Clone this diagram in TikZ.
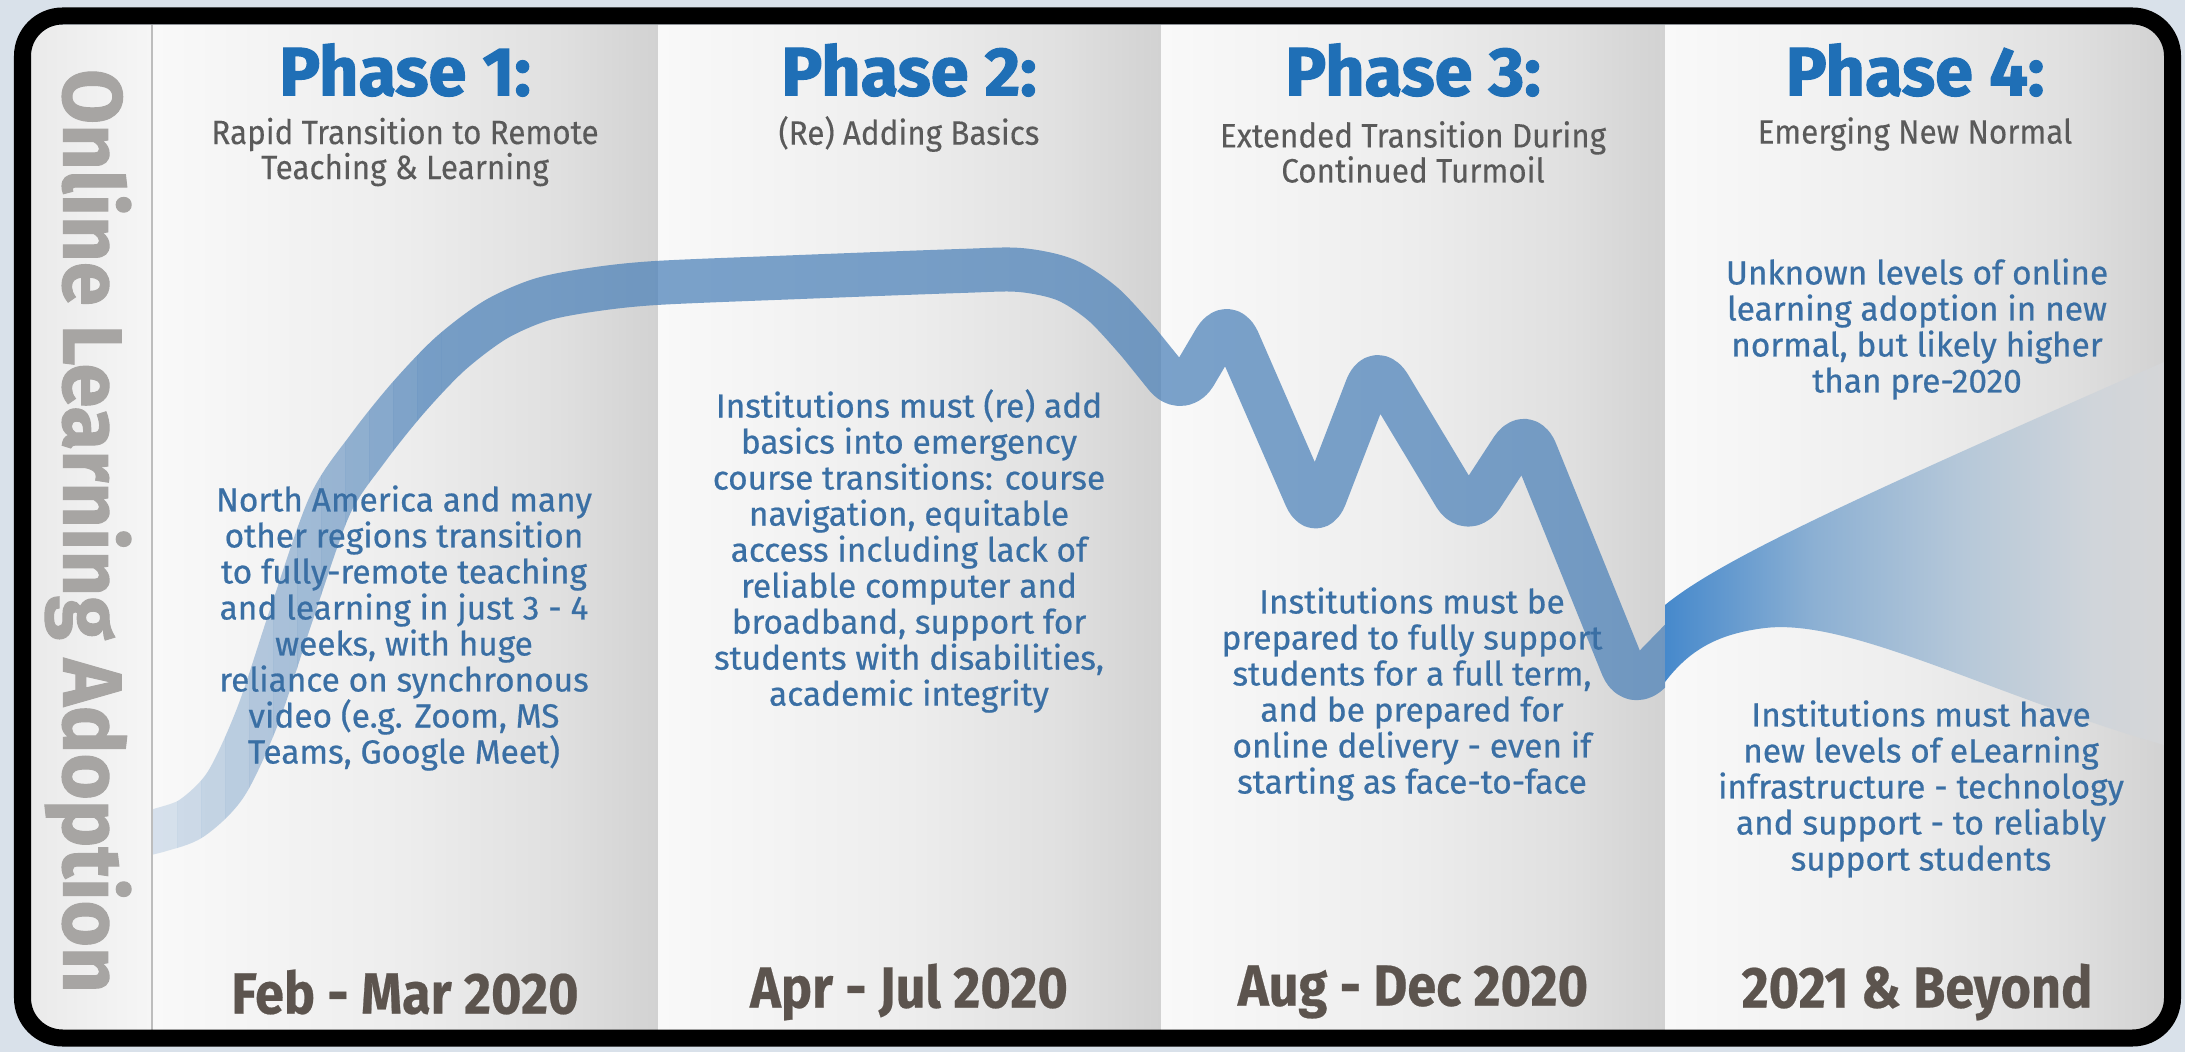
\documentclass[tikz,border=0pt]{standalone}
\usepackage{fontspec}
\setmainfont{Fira Sans}
\newfontfamily\bodyfont[FakeBold=0.6]{Fira Sans}
\newfontfamily\headfont[FakeBold=1.6]{Fira Sans}
\newfontfamily\vertfont[FakeBold=1.2, FakeStretch=0.95]{Fira Sans}
\newfontfamily\datefont[FakeStretch=0.9, FakeBold=0.4]{Fira Sans}
\newfontfamily\subfont[FakeStretch=0.93, FakeBold=0.2]{Fira Sans}

\definecolor{bgout}{HTML}{D9E1EA}
\definecolor{stripL}{HTML}{EAEAEA}
\definecolor{stripR}{HTML}{F6F6F6}
\definecolor{pA}{HTML}{F9F9F9}
\definecolor{pB}{HTML}{EDEDED}
\definecolor{pC}{HTML}{E0E0E0}
\definecolor{pD}{HTML}{D2D2D2}
\definecolor{sepline}{HTML}{BDBDBD}
\definecolor{vtextc}{HTML}{A7A5A3}
\definecolor{headc}{HTML}{1F6FB6}
\definecolor{subc}{HTML}{5A5A5A}
\definecolor{bodyc}{HTML}{3A6FA4}
\definecolor{datec}{HTML}{5C544E}
\definecolor{bandc}{HTML}{4A80B8}
\definecolor{fanA}{HTML}{4689CC}
\definecolor{fanB}{HTML}{8CB0D3}
\definecolor{fanC}{HTML}{B6C8D9}
\definecolor{fanD}{HTML}{D0D5DA}
\definecolor{fanE}{HTML}{D5D6D8}

\pgfdeclarehorizontalshading{panelsh}{100bp}{color(0bp)=(pA); color(25bp)=(pA); color(50bp)=(pB); color(65bp)=(pC); color(75bp)=(pD); color(100bp)=(pD)}
\pgfdeclarehorizontalshading{fansh}{100bp}{color(0bp)=(fanA); color(25bp)=(fanA); color(40bp)=(fanB); color(55bp)=(fanC); color(68bp)=(fanD); color(75bp)=(fanE); color(100bp)=(fanE)}

\tikzset{
  head/.style={font=\headfont\fontsize{19.5}{21}\selectfont\bfseries, text=headc, inner sep=0pt},
  sub/.style={font=\subfont\fontsize{9.6}{9.96}\selectfont, text=subc, align=center, inner sep=0pt},
  body/.style={font=\bodyfont\fontsize{9.5}{10.24}\selectfont, text=bodyc, align=center, inner sep=0pt},
  datelbl/.style={font=\datefont\fontsize{16.5}{18}\selectfont\bfseries, text=datec, inner sep=0pt},
  vtext/.style={font=\vertfont\fontsize{23.8}{25}\selectfont\bfseries, text=vtextc, inner sep=0pt},
  band/.style={draw=bandc, line width=0.44cm, line join=round},
}

\def\bandpath{plot[smooth, tension=0.5] coordinates {(135,836) (160,830) (192,818) (226,784) (258,715) (292,613) (330,505) (368,448) (408,398) (450,354) (495,320) (540,300) (590,290) (656,283) (800,277) (960,271) (1020,270) (1066,280) (1104,305) (1140,344)}
  [rounded corners=0.25cm] -- (1182,396) -- (1228,318) -- (1316,520) -- (1376,364) -- (1468,517) -- (1526,428) -- (1632,690) -- (1710,610)}

\begin{document}
\begin{tikzpicture}[x=0.01cm, y=-0.01cm]
\useasboundingbox (0,0) rectangle (2185,1052);
\fill[bgout] (0,0) rectangle (2185,1052);

% panels
\begin{scope}
  \clip[rounded corners=0.3cm] (31,25) rectangle (2164,1031);
  \shade[left color=stripL, right color=stripR] (31,25) rectangle (152,1031);
  \shade[shading=panelsh] (152,25) rectangle (658,1031);
  \shade[shading=panelsh] (658,25) rectangle (1161,1031);
  \shade[shading=panelsh] (1161,25) rectangle (1665,1031);
  \shade[shading=panelsh] (1665,25) rectangle (2164,1031);
\end{scope}
\draw[sepline, line width=0.02cm] (152,25) -- (152,1031);

% curve: faded start in strips, then the full band
\foreach \i in {0,...,11} {
  \pgfmathsetmacro\xa{153+\i*24}
  \pgfmathsetmacro\xb{153+(\i+1)*24}
  \pgfmathsetmacro\op{0.2+0.52*\i/11}
  \begin{scope}
    \clip (\xa,0) rectangle (\xb,1052);
    \draw[band, draw opacity=\op] \bandpath;
  \end{scope}
}
\begin{scope}
  \clip (441,0) rectangle (1665,1052);
  \draw[band, draw opacity=0.72] \bandpath;
\end{scope}

% fan
\shade[shading=fansh] (1665,605) .. controls (1720,560) and (1850,500) .. (2164,362) -- (2164,745)
  .. controls (1990,695) and (1850,618) .. (1765,628) .. controls (1715,634) and (1688,652) .. (1665,682) -- cycle;

% vertical label
\node[vtext, rotate=-90] (ylabel) at (88,531) {Online Learning Adoption};

% headings
\node[head] (h1) at (405,70) {Phase 1:};
\node[head] (h2) at (909,70) {Phase 2:};
\node[head] (h3) at (1413,70) {Phase 3:};
\node[head] (h4) at (1915,70) {Phase 4:};

% subtitles
\node[sub] (s1) at (405,152) {Rapid Transition to Remote\\Teaching \& Learning};
\node[sub] (s2) at (909,134) {(Re) Adding Basics};
\node[sub] (s3) at (1413,152) {Extended Transition During\\Continued Turmoil};
\node[sub] (s4) at (1915,134) {Emerging New Normal};

% bodies
\node[body] (b1) at (404,628) {North America and many\\other regions transition\\to fully-remote teaching\\and learning in just 3 - 4\\weeks, with huge\\reliance on synchronous\\video (e.g. Zoom, MS\\Teams, Google Meet)};
\node[body] (b2) at (909,551) {Institutions must (re) add\\basics into emergency\\course transitions: course\\navigation, equitable\\access including lack of\\reliable computer and\\broadband, support for\\students with disabilities,\\academic integrity};
\node[body] (b3) at (1412,694) {Institutions must be\\prepared to fully support\\students for a full term,\\and be prepared for\\online delivery - even if\\starting as face-to-face};
\node[body] (b4a) at (1917,329) {Unknown levels of online\\learning adoption in new\\normal, but likely higher\\than pre-2020};
\node[body] (b4b) at (1921,789) {Institutions must have\\new levels of eLearning\\infrastructure - technology\\and support - to reliably\\support students};

% dates
\node[datelbl] (d1) at (405,992) {Feb - Mar 2020};
\node[datelbl] (d2) at (909,992) {Apr - Jul 2020};
\node[datelbl] (d3) at (1413,992) {Aug - Dec 2020};
\node[datelbl] (d4) at (1917,992) {2021 \& Beyond};

% frame
\draw[black, line width=0.17cm, rounded corners=0.4cm] (22.5,16) rectangle (2172.5,1038);
\end{tikzpicture}
\end{document}
